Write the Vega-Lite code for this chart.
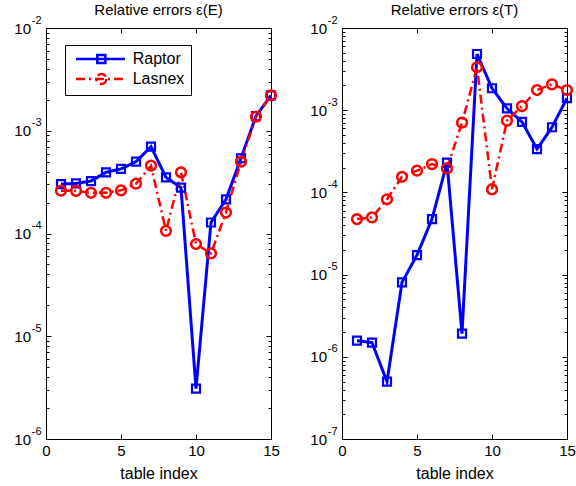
{
  "$schema": "https://vega.github.io/schema/vega-lite/v6.json",
  "padding": {"left": 13, "top": 2, "right": 0, "bottom": 3},
  "spacing": 27,
  "config": {
    "font": "Liberation Sans",
    "view": {"stroke": "black", "strokeWidth": 1},
    "axis": {"domainColor": "black", "tickColor": "black", "labelColor": "black", "titleColor": "black", "grid": false, "labelFont": "Liberation Sans", "titleFont": "Liberation Sans", "labelFontSize": 15, "titleFontSize": 16, "titleFontWeight": "normal", "labelFlush": false, "labelOverlap": false, "domainWidth": 1, "tickWidth": 1},
    "title": {"font": "Liberation Sans", "fontSize": 15, "fontWeight": "normal", "color": "black", "offset": -3.5, "frame": "group"}
  },
  "datasets": {
    "E": [
      {"x": 1, "s": "Raptor", "v": 3.03e-4}, {"x": 2, "s": "Raptor", "v": 3.07e-4}, {"x": 3, "s": "Raptor", "v": 3.24e-4}, {"x": 4, "s": "Raptor", "v": 3.94e-4}, {"x": 5, "s": "Raptor", "v": 4.25e-4}, {"x": 6, "s": "Raptor", "v": 5.0e-4}, {"x": 7, "s": "Raptor", "v": 7.0e-4}, {"x": 8, "s": "Raptor", "v": 3.52e-4}, {"x": 9, "s": "Raptor", "v": 2.79e-4}, {"x": 10, "s": "Raptor", "v": 3.09e-6}, {"x": 11, "s": "Raptor", "v": 1.28e-4}, {"x": 12, "s": "Raptor", "v": 2.15e-4}, {"x": 13, "s": "Raptor", "v": 5.4e-4}, {"x": 14, "s": "Raptor", "v": 1.39e-3}, {"x": 15, "s": "Raptor", "v": 2.21e-3},
      {"x": 1, "s": "Lasnex", "v": 2.61e-4}, {"x": 2, "s": "Lasnex", "v": 2.6e-4}, {"x": 3, "s": "Lasnex", "v": 2.49e-4}, {"x": 4, "s": "Lasnex", "v": 2.49e-4}, {"x": 5, "s": "Lasnex", "v": 2.63e-4}, {"x": 6, "s": "Lasnex", "v": 3.05e-4}, {"x": 7, "s": "Lasnex", "v": 4.57e-4}, {"x": 8, "s": "Lasnex", "v": 1.06e-4}, {"x": 9, "s": "Lasnex", "v": 3.94e-4}, {"x": 10, "s": "Lasnex", "v": 7.9e-5}, {"x": 11, "s": "Lasnex", "v": 6.4e-5}, {"x": 12, "s": "Lasnex", "v": 1.6e-4}, {"x": 13, "s": "Lasnex", "v": 5.0e-4}, {"x": 14, "s": "Lasnex", "v": 1.37e-3}, {"x": 15, "s": "Lasnex", "v": 2.21e-3}
    ],
    "T": [
      {"x": 1, "s": "Raptor", "v": 1.57e-6}, {"x": 2, "s": "Raptor", "v": 1.49e-6}, {"x": 3, "s": "Raptor", "v": 4.98e-7}, {"x": 4, "s": "Raptor", "v": 8.05e-6}, {"x": 5, "s": "Raptor", "v": 1.73e-5}, {"x": 6, "s": "Raptor", "v": 4.74e-5}, {"x": 7, "s": "Raptor", "v": 2.3e-4}, {"x": 8, "s": "Raptor", "v": 1.91e-6}, {"x": 9, "s": "Raptor", "v": 4.83e-3}, {"x": 10, "s": "Raptor", "v": 1.85e-3}, {"x": 11, "s": "Raptor", "v": 1.05e-3}, {"x": 12, "s": "Raptor", "v": 7.2e-4}, {"x": 13, "s": "Raptor", "v": 3.37e-4}, {"x": 14, "s": "Raptor", "v": 6.2e-4}, {"x": 15, "s": "Raptor", "v": 1.40e-3},
      {"x": 1, "s": "Lasnex", "v": 4.74e-5}, {"x": 2, "s": "Lasnex", "v": 4.97e-5}, {"x": 3, "s": "Lasnex", "v": 8.25e-5}, {"x": 4, "s": "Lasnex", "v": 1.55e-4}, {"x": 5, "s": "Lasnex", "v": 1.84e-4}, {"x": 6, "s": "Lasnex", "v": 2.21e-4}, {"x": 7, "s": "Lasnex", "v": 1.96e-4}, {"x": 8, "s": "Lasnex", "v": 7.05e-4}, {"x": 9, "s": "Lasnex", "v": 3.33e-3}, {"x": 10, "s": "Lasnex", "v": 1.09e-4}, {"x": 11, "s": "Lasnex", "v": 7.47e-4}, {"x": 12, "s": "Lasnex", "v": 1.12e-3}, {"x": 13, "s": "Lasnex", "v": 1.76e-3}, {"x": 14, "s": "Lasnex", "v": 2.06e-3}, {"x": 15, "s": "Lasnex", "v": 1.76e-3}
    ]
  },
  "resolve": {"scale": {"y": "independent"}, "legend": {"color": "independent", "strokeDash": "independent"}},
  "hconcat": [
    {
      "width": 225, "height": 411,
      "title": {"text": "Relative errors ε(E)"},
      "data": {"name": "E"},
      "resolve": {"axis": {"x": "independent", "y": "independent"}},
      "layer": [
        {
          "mark": {"type": "line"},
          "encoding": {
            "x": {"field": "x", "type": "quantitative", "scale": {"domain": [0, 15], "nice": false, "zero": false}, "axis": {"orient": "bottom", "values": [0, 5, 10, 15], "tickSize": -5, "labelPadding": 9, "titlePadding": 7, "title": "table index"}},
            "y": {"field": "v", "type": "quantitative", "scale": {"type": "log", "domain": [1e-6, 1e-2], "nice": false}, "axis": {"orient": "left", "title": null, "values": [1e-6, 2e-6, 3e-6, 4e-6, 5e-6, 6e-6, 7e-6, 8e-6, 9e-6, 1e-5, 2e-5, 3e-5, 4e-5, 5e-5, 6e-5, 7e-5, 8e-5, 9e-5, 1e-4, 2e-4, 3e-4, 4e-4, 5e-4, 6e-4, 7e-4, 8e-4, 9e-4, 1e-3, 2e-3, 3e-3, 4e-3, 5e-3, 6e-3, 7e-3, 8e-3, 9e-3, 1e-2], "tickSize": {"condition": {"test": "abs(log(datum.value)/LN10-round(log(datum.value)/LN10))<0.001", "value": -5}, "value": -3}, "labelPadding": 20.5, "labelExpr": "abs(log(datum.value)/LN10-round(log(datum.value)/LN10))>0.001 ? '' : '10'"}},
            "strokeWidth": {"field": "s", "type": "nominal", "scale": {"domain": ["Raptor", "Lasnex"], "range": [3, 2.5]}, "legend": null},
            "color": {"field": "s", "type": "nominal", "scale": {"domain": ["Raptor", "Lasnex"], "range": ["#0000ff", "#ff0000"]}, "legend": {"orient": "none", "legendX": 19, "legendY": 17, "title": null, "strokeColor": "black", "fillColor": "white", "padding": 6, "symbolSize": 144, "symbolStrokeWidth": 2.5, "symbolFillColor": "white", "labelFontSize": 16, "labelFont": "Liberation Sans", "labelColor": "black", "labelOffset": 45.7, "rowPadding": 0, "cornerRadius": 0, "encode": {"symbols": {"update": {"shape": {"signal": "datum.value === 'Raptor' ? 'M-0.5,0H7.67M3.05,-0.67H4.39V0.67H3.05Z' : 'M-0.5,0H7.67M4.55,0A0.83,0.83 0 1,1 2.89,0A0.83,0.83 0 1,1 4.55,0'"}}}}}},
            "strokeDash": {"field": "s", "type": "nominal", "scale": {"domain": ["Raptor", "Lasnex"], "range": [[1, 0], [9, 4, 2, 4]]}, "legend": {"orient": "none", "legendX": 19, "legendY": 17, "title": null, "strokeColor": "black", "fillColor": "white", "padding": 6, "symbolSize": 144, "symbolStrokeWidth": 2.5, "symbolFillColor": "white", "labelFontSize": 16, "labelFont": "Liberation Sans", "labelColor": "black", "labelOffset": 45.7, "rowPadding": 0, "cornerRadius": 0, "encode": {"symbols": {"update": {"shape": {"signal": "datum.value === 'Raptor' ? 'M-0.5,0H7.67M3.05,-0.67H4.39V0.67H3.05Z' : 'M-0.5,0H7.67M4.55,0A0.83,0.83 0 1,1 2.89,0A0.83,0.83 0 1,1 4.55,0'"}}}}}}
          }
        },
        {
          "transform": [{"filter": "datum.s === 'Raptor'"}],
          "mark": {"type": "point", "shape": "square", "size": 64, "filled": false, "strokeWidth": 2.2, "opacity": 1, "color": "#0000ff"},
          "encoding": {
            "x": {"field": "x", "type": "quantitative", "axis": {"orient": "top", "values": [0, 5, 10, 15], "tickSize": -5, "labels": false, "title": null}},
            "y": {"field": "v", "type": "quantitative", "axis": {"orient": "right", "title": null, "labels": false, "values": [1e-6, 2e-6, 3e-6, 4e-6, 5e-6, 6e-6, 7e-6, 8e-6, 9e-6, 1e-5, 2e-5, 3e-5, 4e-5, 5e-5, 6e-5, 7e-5, 8e-5, 9e-5, 1e-4, 2e-4, 3e-4, 4e-4, 5e-4, 6e-4, 7e-4, 8e-4, 9e-4, 1e-3, 2e-3, 3e-3, 4e-3, 5e-3, 6e-3, 7e-3, 8e-3, 9e-3, 1e-2], "tickSize": {"condition": {"test": "abs(log(datum.value)/LN10-round(log(datum.value)/LN10))<0.001", "value": -5}, "value": -3}}}
          }
        },
        {
          "transform": [{"filter": "datum.s === 'Lasnex'"}],
          "mark": {"type": "point", "shape": "circle", "size": 95, "filled": false, "strokeWidth": 2.5, "opacity": 1, "color": "#ff0000"},
          "encoding": {
            "x": {"field": "x", "type": "quantitative", "axis": null},
            "y": {"field": "v", "type": "quantitative", "axis": {"orient": "left", "title": null, "domain": false, "ticks": false, "values": [1e-6, 1e-5, 1e-4, 1e-3, 1e-2], "labelFontSize": 11, "labelPadding": 5, "labelOffset": -8, "labelExpr": "'-' + abs(round(log(datum.value)/LN10))"}}
          }
        }
      ]
    },
    {
      "width": 225, "height": 411,
      "title": {"text": "Relative errors ε(T)"},
      "data": {"name": "T"},
      "resolve": {"axis": {"x": "independent", "y": "independent"}},
      "layer": [
        {
          "mark": {"type": "line"},
          "encoding": {
            "x": {"field": "x", "type": "quantitative", "scale": {"domain": [0, 15], "nice": false, "zero": false}, "axis": {"orient": "bottom", "values": [0, 5, 10, 15], "tickSize": -5, "labelPadding": 9, "titlePadding": 7, "title": "table index"}},
            "y": {"field": "v", "type": "quantitative", "scale": {"type": "log", "domain": [1e-7, 1e-2], "nice": false}, "axis": {"orient": "left", "title": null, "values": [1e-7, 2e-7, 3e-7, 4e-7, 5e-7, 6e-7, 7e-7, 8e-7, 9e-7, 1e-6, 2e-6, 3e-6, 4e-6, 5e-6, 6e-6, 7e-6, 8e-6, 9e-6, 1e-5, 2e-5, 3e-5, 4e-5, 5e-5, 6e-5, 7e-5, 8e-5, 9e-5, 1e-4, 2e-4, 3e-4, 4e-4, 5e-4, 6e-4, 7e-4, 8e-4, 9e-4, 1e-3, 2e-3, 3e-3, 4e-3, 5e-3, 6e-3, 7e-3, 8e-3, 9e-3, 1e-2], "tickSize": {"condition": {"test": "abs(log(datum.value)/LN10-round(log(datum.value)/LN10))<0.001", "value": -5}, "value": -3}, "labelPadding": 20.5, "labelExpr": "abs(log(datum.value)/LN10-round(log(datum.value)/LN10))>0.001 ? '' : '10'"}},
            "strokeWidth": {"field": "s", "type": "nominal", "scale": {"domain": ["Raptor", "Lasnex"], "range": [3, 2.5]}, "legend": null},
            "color": {"field": "s", "type": "nominal", "scale": {"domain": ["Raptor", "Lasnex"], "range": ["#0000ff", "#ff0000"]}, "legend": null},
            "strokeDash": {"field": "s", "type": "nominal", "scale": {"domain": ["Raptor", "Lasnex"], "range": [[1, 0], [9, 4, 2, 4]]}, "legend": null}
          }
        },
        {
          "transform": [{"filter": "datum.s === 'Raptor'"}],
          "mark": {"type": "point", "shape": "square", "size": 64, "filled": false, "strokeWidth": 2.2, "opacity": 1, "color": "#0000ff"},
          "encoding": {
            "x": {"field": "x", "type": "quantitative", "axis": {"orient": "top", "values": [0, 5, 10, 15], "tickSize": -5, "labels": false, "title": null}},
            "y": {"field": "v", "type": "quantitative", "axis": {"orient": "right", "title": null, "labels": false, "values": [1e-7, 2e-7, 3e-7, 4e-7, 5e-7, 6e-7, 7e-7, 8e-7, 9e-7, 1e-6, 2e-6, 3e-6, 4e-6, 5e-6, 6e-6, 7e-6, 8e-6, 9e-6, 1e-5, 2e-5, 3e-5, 4e-5, 5e-5, 6e-5, 7e-5, 8e-5, 9e-5, 1e-4, 2e-4, 3e-4, 4e-4, 5e-4, 6e-4, 7e-4, 8e-4, 9e-4, 1e-3, 2e-3, 3e-3, 4e-3, 5e-3, 6e-3, 7e-3, 8e-3, 9e-3, 1e-2], "tickSize": {"condition": {"test": "abs(log(datum.value)/LN10-round(log(datum.value)/LN10))<0.001", "value": -5}, "value": -3}}}
          }
        },
        {
          "transform": [{"filter": "datum.s === 'Lasnex'"}],
          "mark": {"type": "point", "shape": "circle", "size": 95, "filled": false, "strokeWidth": 2.5, "opacity": 1, "color": "#ff0000"},
          "encoding": {
            "x": {"field": "x", "type": "quantitative", "axis": null},
            "y": {"field": "v", "type": "quantitative", "axis": {"orient": "left", "title": null, "domain": false, "ticks": false, "values": [1e-7, 1e-6, 1e-5, 1e-4, 1e-3, 1e-2], "labelFontSize": 11, "labelPadding": 5, "labelOffset": -8, "labelExpr": "'-' + abs(round(log(datum.value)/LN10))"}}
          }
        }
      ]
    }
  ]
}
